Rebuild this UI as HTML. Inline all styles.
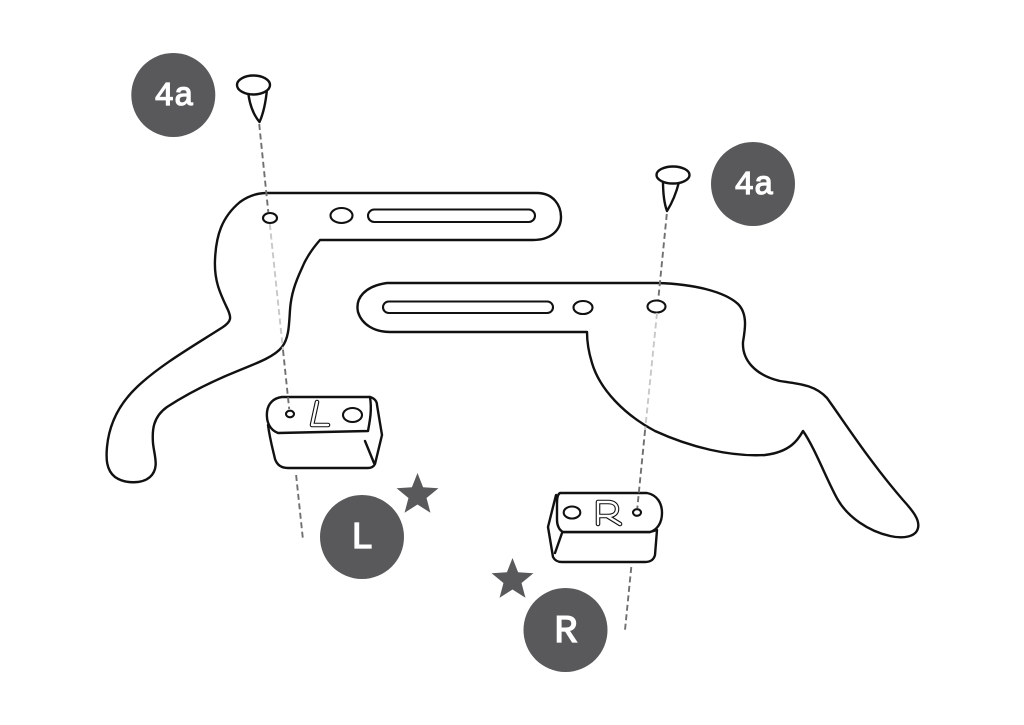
<!DOCTYPE html>
<html>
<head>
<meta charset="utf-8">
<style>
  html,body{margin:0;padding:0;background:#fff;}
  svg{display:block;}
  .o{fill:none;stroke:#111;stroke-width:2.4;stroke-linejoin:round;stroke-linecap:round;}
  .w{fill:#fff;stroke:#111;stroke-width:2.4;stroke-linejoin:round;stroke-linecap:round;}
  .h{fill:#fff;stroke:#111;stroke-width:2.1;}
  .dk{stroke:#707070;stroke-width:1.9;stroke-dasharray:6 3.5;fill:none;}
  .lt{stroke:#c8c8c8;stroke-width:1.9;stroke-dasharray:6 3.5;fill:none;}
  .c{fill:#59595b;}
  .t{font-family:"Liberation Mono","DejaVu Sans Mono",monospace;font-weight:normal;fill:#fff;stroke:#fff;stroke-width:1.2;text-anchor:middle;}
  .lb{fill:none;stroke:#111;stroke-width:4.6;stroke-linejoin:round;stroke-linecap:round;}
  .lw{fill:none;stroke:#fff;stroke-width:2.4;stroke-linejoin:round;stroke-linecap:round;}
</style>
</head>
<body>
<svg width="1024" height="725" viewBox="0 0 1024 725" xmlns="http://www.w3.org/2000/svg">
  <rect width="1024" height="725" fill="#fff"/>

  <!-- Left bracket -->
  <path class="o" d="M267,193 L537,193 C553,193 561,205 561,217 C561,230 551,240 533,240 L320,240 C313,248 306,258 302,268 C295,283 291,295 290,310 C289,325 289,338 282,347 C275,356 260,362 240,370 C215,380 190,392 167,407 C153,417 152,430 153,443 C154,455 160,468 150,477 C142,484 125,484 115,477 C106,470 106,458 107,447 C109,425 118,405 137,387 C160,365 195,345 223,327 C232,321 231,317 228,310 C221,295 214,282 215,260 C216,235 222,217 240,202 C248,196 257,193 267,193 Z"/>
  <ellipse class="h" cx="270" cy="218" rx="7" ry="5"/>
  <ellipse class="h" cx="341.5" cy="215.5" rx="11" ry="7.5"/>
  <rect class="h" x="368" y="209.5" width="167" height="12.5" rx="6.25" ry="6.25"/>

  <!-- Right bracket -->
  <path class="o" d="M387,283 L657,283 C695,284 725,292 738,304 C748,314 745,330 743,342 C742,360 755,375 780,381 C800,384 815,385 827,398 C845,423 870,462 903,500 C913,511 920,520 918,528 C916,537 903,539 890,536 C868,531 848,517 838,500 C828,483 815,448 803,431 C798,440 790,452 765,455 C730,457 690,447 655,431 C625,415 600,390 592,363 C588,350 587,340 587,332 L390,332 C375,332 362,325 358,312 C355,298 365,286 387,283 Z"/>
  <ellipse class="h" cx="656.5" cy="306.5" rx="9" ry="6"/>
  <ellipse class="h" cx="583" cy="307.5" rx="9.5" ry="6.5"/>
  <rect class="h" x="383" y="301.5" width="170" height="11.5" rx="5.75" ry="5.75"/>

  <!-- L block -->
  <path class="w" d="M268,425 C270,440 273,450 275,459 C277,465 281,468 288,468 L368,468 C372,468 374,466 375,464 L382,435 L377,405 C377,401 374,398 370,397 Z"/>
  <path class="w" d="M282,397 L370,397 C372,410 370,420 368,431 L278,433 C270,430 266,422 267,412 C268,403 274,398 282,397 Z"/>
  <path class="o" d="M365,441 L374,463"/>
  <ellipse class="h" cx="290" cy="414" rx="4" ry="3.3"/>
  <ellipse class="h" cx="352.5" cy="415" rx="9.5" ry="7"/>
  <path class="lb" d="M317,402 L312,425 L328,425"/>
  <path class="lw" d="M317,402 L312,425 L328,425"/>

  <!-- R block -->
  <path class="w" d="M556,495 L548,527 L553,557 C555,561 558,562 562,562 L645,562 C651,562 654,559 655,555 L657,530 L650,532 L563,532 Z"/>
  <path class="w" d="M560,493 L647,493 C657,495 662,503 662,513 C662,523 657,530 650,532 L563,532 C559,530 557,525 557,520 L557,503 C557,497 558,494 560,493 Z"/>
  <path class="o" d="M562,533 L555,553"/>
  <ellipse class="h" cx="572" cy="512.5" rx="8.3" ry="6"/>
  <ellipse class="h" cx="637" cy="512.5" rx="4" ry="3.3"/>
  <path class="lb" d="M598,524 L598,502 L608,502 C614,502 617,505 617,509 C617,513 614,516 608,516 L598,516 M607,516 L620,524"/>
  <path class="lw" d="M598,524 L598,502 L608,502 C614,502 617,505 617,509 C617,513 614,516 608,516 L598,516 M607,516 L620,524"/>

  <!-- Dashed lines left -->
  <line class="dk" x1="259.2" y1="124" x2="268.3" y2="212"/>
  <line class="lt" x1="269.8" y1="224" x2="283" y2="350"/>
  <line class="dk" x1="283" y1="350" x2="289.2" y2="409"/>
  <line class="dk" x1="296.1" y1="475" x2="303" y2="540"/>

  <!-- Dashed lines right -->
  <line class="dk" x1="666.8" y1="214" x2="658.2" y2="300"/>
  <line class="lt" x1="657" y1="313" x2="645.1" y2="430"/>
  <line class="dk" x1="645.1" y1="430" x2="637.3" y2="508"/>
  <line class="dk" x1="631.3" y1="567" x2="625" y2="630"/>

  <!-- Pins -->
  <path class="w" d="M248,90 C249,103 253,114 259.5,122 C264,112 266,100 267,89"/>
  <ellipse class="w" cx="253.5" cy="85" rx="16.5" ry="9.5"/>
  <path class="w" d="M663,181 C663,194 664,203 667,211 C672,203 676,194 679,182"/>
  <ellipse class="w" cx="673" cy="175" rx="16.5" ry="8.5"/>

  <!-- Badges -->
  <circle class="c" cx="173.3" cy="95" r="42"/>
  <text class="t" x="174" y="105" font-size="33">4a</text>
  <circle class="c" cx="753" cy="184" r="42"/>
  <text class="t" x="754" y="194" font-size="33">4a</text>
  <circle class="c" cx="362" cy="537" r="42"/>
  <text class="t" x="362" y="548" font-size="38">L</text>
  <circle class="c" cx="565.5" cy="630" r="42"/>
  <text class="t" x="566" y="642" font-size="39">R</text>

  <!-- Stars -->
  <polygon class="c" transform="translate(417.5,495)" points="0,-22 5.59,-7.69 20.92,-6.8 9.03,2.94 12.94,17.8 0,9.5 -12.94,17.8 -9.03,2.94 -20.92,-6.8 -5.59,-7.69"/>
  <polygon class="c" transform="translate(512.5,580)" points="0,-22 5.59,-7.69 20.92,-6.8 9.03,2.94 12.94,17.8 0,9.5 -12.94,17.8 -9.03,2.94 -20.92,-6.8 -5.59,-7.69"/>
</svg>
</body>
</html>
